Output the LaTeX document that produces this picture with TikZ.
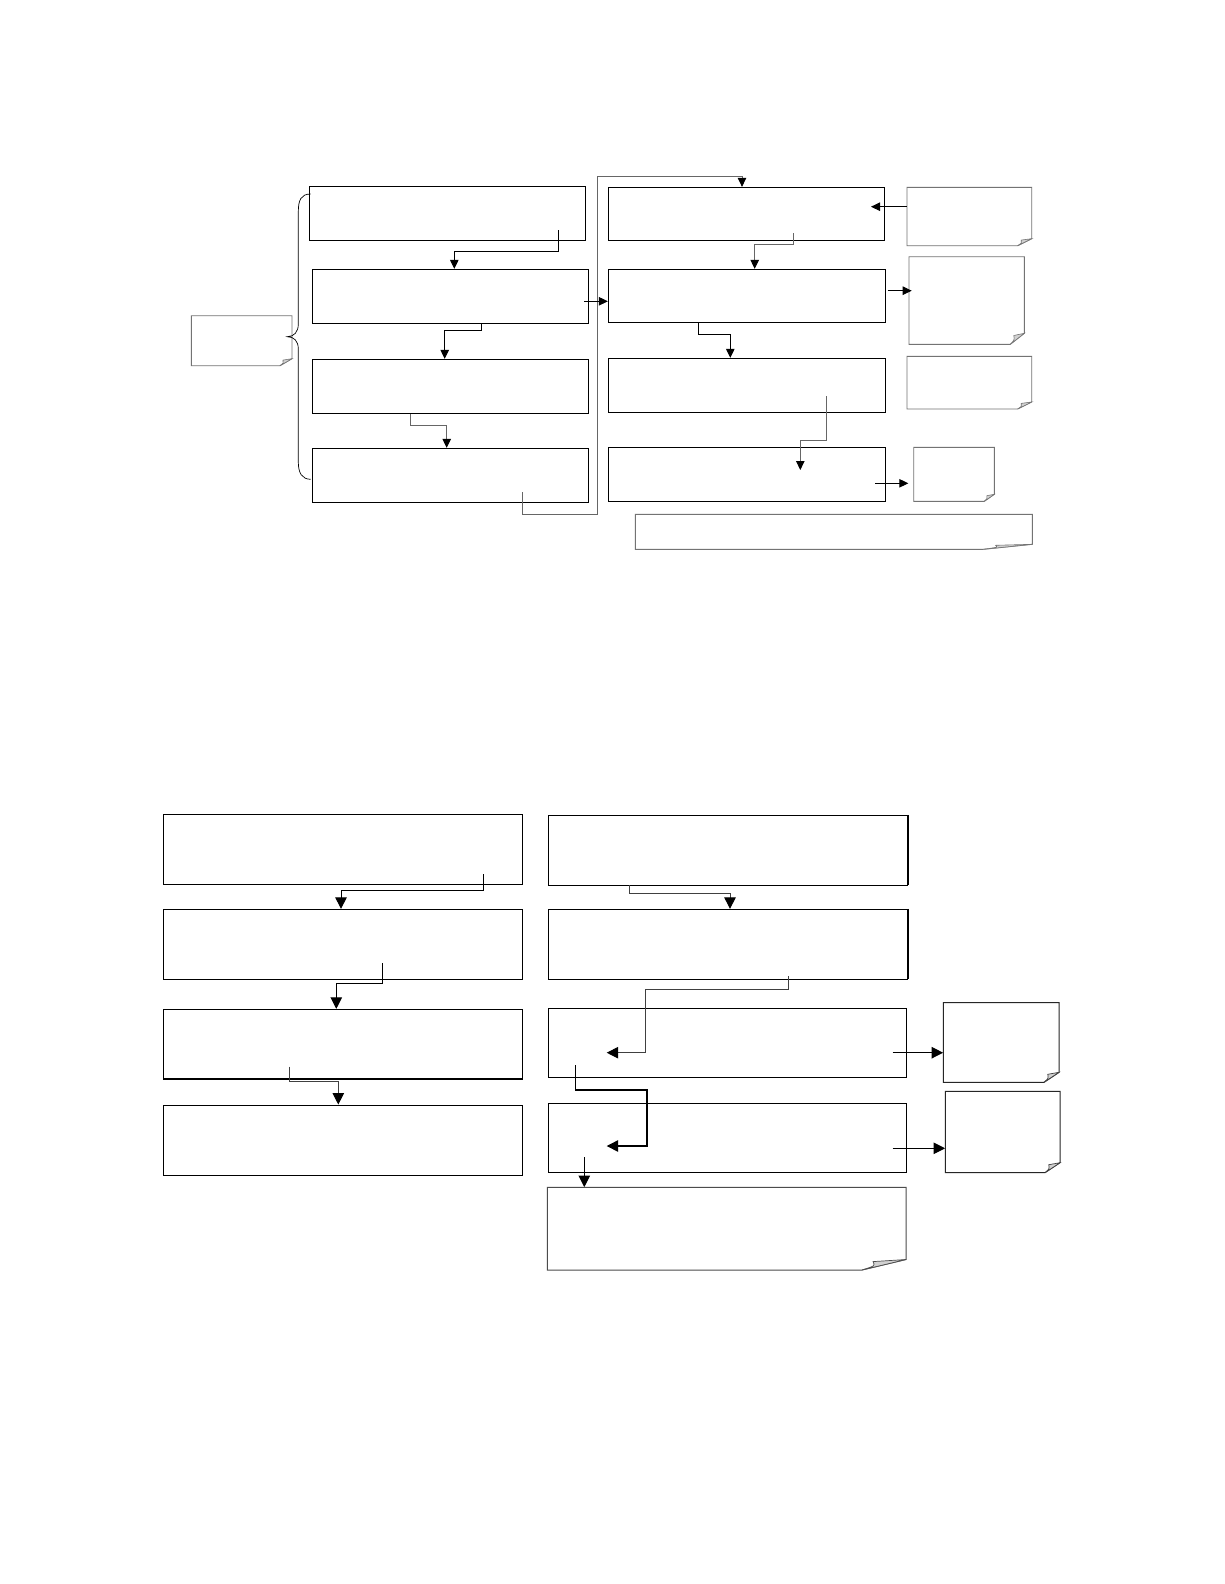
\documentclass[tikz,border=0pt]{standalone}
\usetikzlibrary{fit,arrows.meta}
\tikzset{
  box/.style={draw, inner sep=0pt, line width=0.9pt},
  notenode/.style={inner sep=0pt},
  noteedge/.style={draw=black!55, line width=0.9pt},
  notefold/.style={draw=black!55, fill=black!18, line width=0.6pt},
  darknote/.style={noteedge/.style={draw=black!85, line width=1pt}, notefold/.style={draw=black!75, fill=black!18, line width=0.7pt}},
  midnote/.style={noteedge/.style={draw=black!70, line width=1pt}, notefold/.style={draw=black!70, fill=black!18, line width=0.7pt}},
  conn/.style={line width=0.9pt, -{Triangle[length=9pt,width=8.5pt,color=black]}},
  gconn/.style={conn, draw=black!60},
  bconn/.style={line width=1pt, -{Triangle[length=11.5pt,width=11.5pt,color=black]}},
  plainline/.style={line width=0.9pt},
}
\newcommand\notebox[7]{%
  \node[notenode, fit={(#2,#3) (#4,#5)}] (#1) {};
  \draw[noteedge] (#2,#3) -- (#4,#3) -- (#4,#5-#7) -- (#4-#6,#5) -- (#2,#5) -- cycle;
  \filldraw[notefold] (#4-#6,#5) .. controls (#4-0.7*#6,#5-0.4*#7) .. (#4-0.75*#6,#5-0.8*#7) -- (#4,#5-#7) -- cycle;
}
\begin{document}
\begin{tikzpicture}[x=1pt,y=-1pt]
\useasboundingbox (0,0) rectangle (1224,1584);
\fill[white] (0,0) rectangle (1224,1584);

% ---------- top section, left column ----------
\node[box, fit={(309.3,186) (585.7,240.3)}] (a1) {};
\node[box, fit={(312.3,269.3) (588.7,323.7)}] (a2) {};
\node[box, fit={(312.3,359.3) (588.7,413.3)}] (a3) {};
\node[box, fit={(312.3,448.3) (588.7,502.3)}] (a4) {};
\notebox{n0}{191.3}{315.7}{292}{365.7}{12}{7}

% brace
\draw[plainline, line width=0.7pt] (310.7,194) .. controls (301,194) and (298.3,200) .. (298.3,212) -- (298.3,324)
  .. controls (298.3,332) and (294,336.7) .. (287.3,336.7)
  .. controls (294,336.7) and (298.3,341) .. (298.3,349) -- (298.3,462)
  .. controls (298.3,473) and (302,479.3) .. (310.7,479.3);

% ---------- top section, right column ----------
\node[box, fit={(608.3,187.3) (884.7,240.3)}] (b1) {};
\node[box, fit={(608.3,269.3) (885.7,322.7)}] (b2) {};
\node[box, fit={(608.3,358.3) (885.7,412.3)}] (b3) {};
\node[box, fit={(608.3,447.3) (885.7,501.3)}] (b4) {};
\notebox{n1}{907}{187.3}{1031.7}{245.7}{14}{7}
\notebox{n2}{909}{256.7}{1024.3}{344.3}{14}{11}
\notebox{n3}{907}{356.3}{1031.7}{409}{14}{7}
\notebox{n4}{913.7}{447.3}{994.3}{501.3}{10}{7}
\notebox{n5}{635.3}{514.3}{1032.3}{549.3}{49}{5}

% connectors top-left
\draw[conn] (558.7,230.3) |- (454.3,251) -- (454.3,251 |- a2.north);
\draw[conn] (481.7,251 |- a2.south) |- (444.7,330.3) -- (444.7,330.3 |- a3.north);
\draw[gconn] (410,300 |- a3.south) |- (446.7,425.3) -- (446.7,425.3 |- a4.north);
\draw[gconn] (522,492.3) |- (597.5,514.3) -- (597.5,176.7) -| (742,176.7 |- b1.north);
\draw[conn, line width=0.6pt] (584,301.3) -- (584,301.3 -| b2.west);

% connectors top-right
\draw[conn] (n1.west |- 0,206.7) -- (871,206.7);
\draw[gconn] (793,233) |- (754.7,244.3) -- (754.7,244.3 |- b2.north);
\draw[conn] (887.7,290.7) -- (911.7,290.7);
\draw[conn] (698.3,300 |- b2.south) |- (730.3,334) -- (730.3,334 |- b3.north);
\draw[gconn] (826.3,396) |- (800.3,440) -- (800.3,470);
\draw[conn] (875.3,483.3) -- (908.3,483.3);

% ---------- bottom section, left column ----------
\node[box, fit={(163.7,814.3) (522.3,884)}] (c1) {};
\node[box, fit={(163.7,909.3) (522.3,979)}] (c2) {};
\node[box, fit={(163.7,1009.3) (522.3,1078.7)}] (c3) {};
\node[box, fit={(163.7,1105) (522.3,1175.3)}] (c4) {};
\draw[line width=1.8pt] (c1.south west) -- (c1.south east);
\draw[line width=1.8pt] (c2.south west) -- (c2.south east);
\draw[line width=1.8pt] (c3.south west) -- (c3.south east);

\draw[bconn] (483.3,874) |- (341,890) -- (341,890 |- c2.north);
\draw[bconn] (382.3,963) |- (336.3,983) -- (336.3,983 |- c3.north);
\draw[bconn, draw=black!75] (289.3,1066.7) |- (338.3,1081) -- (338.3,1081 |- c4.north);

% ---------- bottom section, right column ----------
\node[box, fit={(548.3,815.3) (907.3,885)}] (d1) {};
\node[box, fit={(548.3,909.3) (907.3,979)}] (d2) {};
\node[box, fit={(548.3,1008.3) (906.7,1077.3)}] (d3) {};
\node[box, fit={(548.3,1103.3) (906.7,1172.3)}] (d4) {};
\draw[line width=1.8pt] (d1.north east) -- (d1.south east);
\draw[line width=1.8pt] (d2.north east) -- (d2.south east);
\draw[line width=1.8pt] (d2.south west) -- (d2.south east);
\begin{scope}[midnote]
\notebox{d5}{547.3}{1187.3}{906}{1270}{44}{10.5}
\end{scope}
\begin{scope}[darknote]
\notebox{e1}{943.3}{1002.7}{1059}{1082.3}{15}{10}
\notebox{e2}{945.3}{1091.3}{1060}{1172.7}{15}{10}
\end{scope}

\draw[bconn, draw=black!75] (629.7,850 |- d1.south) |- (730,893) -- (730,893 |- d2.north);
\draw[bconn, draw=black!75] (788.3,976) |- (645.7,989.7) |- (606.7,1052.7);
\draw[bconn, line width=1.3pt] (575.7,1065) |- (647,1090) |- (606.7,1146);
\draw[bconn] (892.7,1052.7) -- (892.7,1052.7 -| e1.west);
\draw[bconn] (892.7,1148.3) -- (892.7,1148.3 -| e2.west);
\draw[bconn] (584.3,1157.3) -- (584.3,1157.3 |- d5.north);
\end{tikzpicture}
\end{document}
